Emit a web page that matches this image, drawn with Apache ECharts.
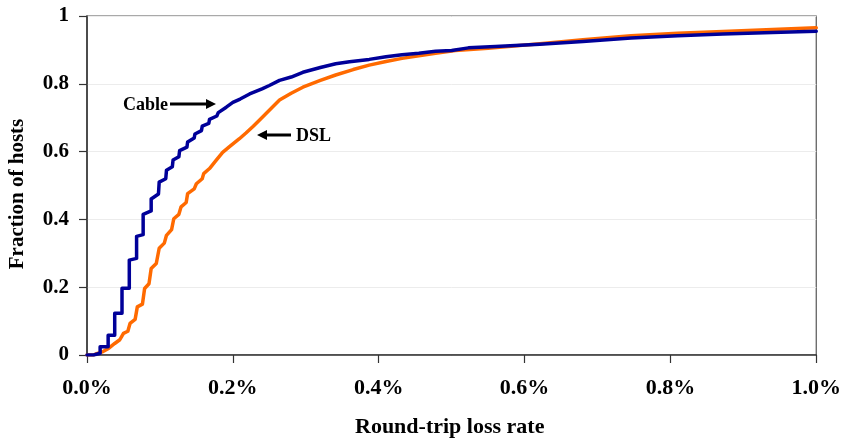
<!DOCTYPE html>
<html>
<head>
<meta charset="utf-8">
<script src="https://cdn.jsdelivr.net/npm/echarts@6/dist/echarts.min.js"></script>
<style>html,body{margin:0;padding:0;background:#fff;}#c{width:844px;height:439px;}</style>
</head>
<body>
<div id="c"></div>
<script>
// x: round-trip loss rate (%), y: fraction of hosts
const cableData = [
  [0,0],[0.009,0],[0.009,0.005],[0.018,0.005],[0.018,0.024],[0.029,0.024],[0.029,0.058],
  [0.038,0.058],[0.038,0.123],[0.048,0.123],[0.048,0.197],[0.058,0.197],[0.058,0.28],
  [0.068,0.285],[0.068,0.35],[0.077,0.355],[0.077,0.415],[0.088,0.425],[0.088,0.46],
  [0.098,0.475],[0.099,0.51],[0.108,0.52],[0.109,0.545],[0.117,0.555],[0.118,0.575],
  [0.126,0.585],[0.127,0.603],[0.137,0.613],[0.138,0.628],[0.147,0.64],[0.148,0.652],
  [0.157,0.662],[0.158,0.675],[0.167,0.683],[0.168,0.695],[0.178,0.705],[0.18,0.715],
  [0.191,0.731],[0.2,0.745],[0.21,0.755],[0.223,0.77],[0.24,0.785],[0.25,0.795],
  [0.264,0.81],[0.28,0.82],[0.296,0.834],[0.32,0.848],[0.341,0.859],[0.36,0.865],
  [0.387,0.872],[0.41,0.88],[0.432,0.886],[0.455,0.89],[0.478,0.896],[0.5,0.898],
  [0.523,0.906],[0.56,0.91],[0.621,0.917],[0.68,0.925],[0.746,0.935],[0.81,0.942],
  [0.872,0.947],[0.94,0.951],[1.0,0.955]
];
const dslData = [
  [0,0],[0.009,0],[0.012,0.003],[0.022,0.01],[0.03,0.02],[0.038,0.034],[0.045,0.045],
  [0.05,0.064],[0.056,0.07],[0.059,0.093],[0.066,0.105],[0.069,0.142],[0.076,0.15],
  [0.079,0.196],[0.085,0.21],[0.088,0.255],[0.095,0.27],[0.099,0.315],[0.106,0.33],
  [0.109,0.353],[0.116,0.37],[0.119,0.402],[0.126,0.415],[0.129,0.437],[0.136,0.45],
  [0.138,0.476],[0.147,0.49],[0.15,0.505],[0.158,0.52],[0.16,0.535],[0.168,0.55],
  [0.177,0.574],[0.186,0.598],[0.195,0.614],[0.209,0.638],[0.218,0.655],[0.228,0.675],
  [0.236,0.692],[0.25,0.722],[0.264,0.752],[0.28,0.772],[0.296,0.79],[0.32,0.81],
  [0.341,0.826],[0.365,0.842],[0.387,0.855],[0.41,0.866],[0.432,0.875],[0.455,0.883],
  [0.478,0.89],[0.505,0.898],[0.55,0.905],[0.621,0.918],[0.68,0.93],[0.746,0.942],
  [0.81,0.949],[0.872,0.954],[0.94,0.96],[1.0,0.965]
];
const seriesNames = ['Cable','DSL'];
const xTitle = 'Round-trip loss rate';
const yTitle = 'Fraction of hosts';

const FONT = '"Liberation Serif","Times New Roman",serif';
const chart = echarts.init(document.getElementById('c'), null, {renderer:'canvas'});
chart.setOption({
  animation: false,
  backgroundColor: '#fff',
  grid: {left: 87, right: 25, top: 16, bottom: 84, show: true, borderColor: '#555', borderWidth: 1.2, backgroundColor: 'transparent'},
  xAxis: {
    type: 'value', min: 0, max: 1, interval: 0.2,
    axisLine: {show: true, lineStyle: {color: '#333', width: 1.5}},
    axisTick: {show: true, inside: false, length: 8, lineStyle: {color: '#333', width: 1.2}},
    splitLine: {show: false},
    axisLabel: {margin: 22, fontFamily: FONT, fontWeight: 'bold', fontSize: 22, color: '#000',
      formatter: v => v.toFixed(1) + '%'}
  },
  yAxis: {
    type: 'value', min: 0, max: 1, interval: 0.2,
    axisLine: {show: true, lineStyle: {color: '#333', width: 1.5}},
    axisTick: {show: true, inside: false, length: 8, lineStyle: {color: '#333', width: 1.2}},
    splitLine: {show: true, lineStyle: {color: '#ececec', width: 1}},
    axisLabel: {margin: 18, fontFamily: FONT, fontWeight: 'bold', fontSize: 21, color: '#000'}
  },
  series: [
    {name: seriesNames[1], type: 'line', data: dslData, showSymbol: false, symbol: 'none',
      lineStyle: {color: '#ff6a00', width: 3.5, join: 'round', cap: 'round'}, z: 2},
    {name: seriesNames[0], type: 'line', data: cableData, showSymbol: false, symbol: 'none',
      lineStyle: {color: '#000099', width: 3.5, join: 'round', cap: 'round'}, z: 3}
  ],
  graphic: [
    {type: 'text', left: 355, top: 416, style: {text: xTitle, font: 'bold 22px ' + FONT, fill: '#000'}},
    {type: 'text', x: 18, y: 194, rotation: Math.PI/2,
      style: {text: yTitle, font: 'bold 21px ' + FONT, fill: '#000', align: 'center', verticalAlign: 'middle'}},
    {type: 'text', x: 123, y: 105, style: {text: seriesNames[0], font: 'bold 18px ' + FONT, fill: '#000', verticalAlign: 'middle'}},
    {type: 'line', shape: {x1: 170, y1: 104, x2: 207, y2: 104}, style: {stroke: '#000', lineWidth: 3}},
    {type: 'polygon', shape: {points: [[206,99],[216,104],[206,109]]}, style: {fill: '#000'}},
    {type: 'text', x: 296, y: 136, style: {text: seriesNames[1], font: 'bold 18px ' + FONT, fill: '#000', verticalAlign: 'middle'}},
    {type: 'polygon', shape: {points: [[257,135],[267,130],[267,140]]}, style: {fill: '#000'}},
    {type: 'line', shape: {x1: 266, y1: 135, x2: 291, y2: 135}, style: {stroke: '#000', lineWidth: 3}}
  ]
});
</script>
</body>
</html>
